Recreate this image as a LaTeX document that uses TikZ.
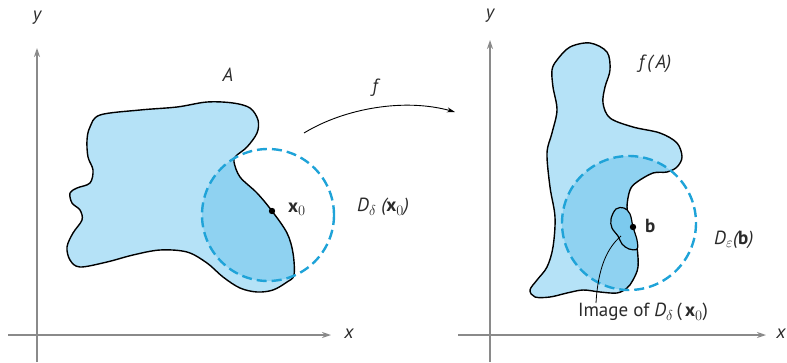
\documentclass[tikz,border=0pt]{standalone}
\usepackage{fontspec}
\setmainfont{PT Sans}
\usetikzlibrary{arrows.meta}
\definecolor{fillA}{HTML}{B5E2F7}
\definecolor{fillB}{HTML}{8FD2F1}
\definecolor{fillC}{HTML}{7CCAEE}
\definecolor{ringc}{HTML}{1FA3D8}
\definecolor{axisc}{HTML}{8A8A8A}
\definecolor{txt}{HTML}{2A2A2A}
\tikzset{
  axisline/.style={draw=axisc, line width=1.3pt, -{Stealth[length=9pt,width=6pt]}},
  outline/.style={draw=black, line width=1.4pt, line join=round},
  ring/.style={draw=ringc, line width=2.4pt, dash pattern=on 10pt off 5pt},
  lbl/.style={text=txt, font=\fontsize{19}{21}\selectfont, inner sep=1pt},
}
\newcommand{\bx}{{\upshape\bfseries x}}
\newcommand{\bb}{{\upshape\bfseries b}}
\def\shapeA{plot[smooth cycle, tension=0.55] coordinates {(90,127) (100,115) (140,110) (177,107) (207,102) (233,103) (250,108) (258,120) (257,133) (247,147) (236,156) (234,162) (240,177) (257,193) (272,211) (287,233) (293,253) (294,275) (287,282) (273,290) (257,292) (240,288) (223,277) (207,263) (187,252) (160,250) (133,255) (107,262) (80,267) (70,260) (67,247) (73,233) (82,220) (80,210) (72,203) (70,193) (77,188) (90,183) (93,170) (88,157) (87,140)}}
\def\shapeB{plot[smooth cycle, tension=0.55] coordinates {(557,60) (570,47) (590,43) (607,52) (610,70) (605,87) (603,103) (610,118) (633,127) (660,133) (677,143) (682,157) (677,167) (667,172) (653,173) (637,182) (630,190) (627,207) (630,220) (633,227) (637,247) (638,267) (633,280) (627,288) (617,293) (600,292) (583,290) (567,293) (550,297) (535,297) (530,290) (537,280) (547,267) (553,247) (555,217) (550,187) (547,153) (552,133) (557,110) (553,87) (552,70)}}
\begin{document}
\begin{tikzpicture}[x=1pt,y=-1pt]
\useasboundingbox (0,0) rectangle (787,362);
% axes
\coordinate (lyb) at (37,362); \coordinate (lyt) at (37,48);
\coordinate (lxl) at (8,335); \coordinate (lxr) at (331,335);
\coordinate (ryb) at (490,362); \coordinate (ryt) at (490,40);
\coordinate (rxl) at (458,335); \coordinate (rxr) at (766,335);
\draw[axisline] (lyb) -- (lyt);
\draw[axisline] (lxl) -- (lxr);
\draw[axisline] (ryb) -- (ryt);
\draw[axisline] (rxl) -- (rxr);
\node[lbl] (ly) at (37,18) {\itshape y};
\node[lbl] (lx) at (349,334) {\itshape x};
\node[lbl] (ry) at (490,16) {\itshape y};
\node[lbl] (rx) at (781,334) {\itshape x};
% left region
\fill[fillA] \shapeA;
\begin{scope}
\clip (268,215) circle (66);
\fill[fillB] \shapeA;
\end{scope}
\draw[outline] \shapeA;
\draw[ring] (268,215) circle (66);
\fill[black] (272,211) circle (3.2);
\node[lbl] (Alab) at (228,75) {\itshape A};
\node[lbl, anchor=west] (x0) at (287,209) {\bx$_{\scriptstyle 0}$};
\node[lbl, anchor=west] (Dd) at (356,207) {\itshape D$_{\delta}$ (\bx$_0$)};
% map arrow
\node[lbl] (flab) at (375,88) {\itshape f};
\coordinate (fs) at (304,133); \coordinate (fe) at (455,112);
\draw[black, line width=0.9pt, -{Stealth[length=8pt,width=5pt]}] (fs) .. controls (345,108) and (405,98) .. (fe);
% right region
\fill[fillA] \shapeB;
\begin{scope}
\clip (629,223) circle (67);
\fill[fillB] \shapeB;
\end{scope}
\draw[outline] \shapeB;
\filldraw[fill=fillC, draw=black, line width=1.2pt] plot[smooth cycle, tension=0.6] coordinates {(611,219) (616,209) (624,208) (630,214) (633,227) (637,240) (637,249) (629,249) (622,244) (618,236) (612,228)};
\draw[ring] (629,223) circle (67);
\fill[black] (633,227) circle (3.2);
\node[lbl, anchor=west] (blab) at (644,226) {\bb};
\node[lbl] (fA) at (655,64) {\itshape f\,(\,A)};
\node[lbl, anchor=west] (De) at (713,240) {\itshape D$_{\varepsilon}$(\bb)};
\node[lbl] (img) at (643,312) {Image of {\itshape D}$_{\delta}$\,(\,\bx$_0$)};
\coordinate (ls) at (596,303); \coordinate (lt) at (621,236);
\draw[black, line width=0.8pt] (ls) .. controls (598,268) and (607,248) .. (lt);
\end{tikzpicture}
\end{document}
